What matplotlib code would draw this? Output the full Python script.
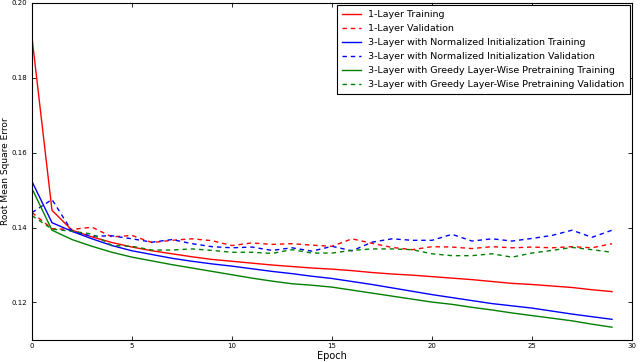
import matplotlib
matplotlib.use("Agg")
import matplotlib.pyplot as plt
import numpy as np

epochs = np.arange(30)

one_layer_train = [0.1907, 0.1446, 0.1393, 0.1375, 0.1360, 0.1348, 0.1338, 0.1330, 0.1322, 0.1315,
                   0.1310, 0.1305, 0.1300, 0.1296, 0.1292, 0.1289, 0.1285, 0.1280, 0.1276, 0.1273,
                   0.1269, 0.1265, 0.1261, 0.1256, 0.1251, 0.1248, 0.1244, 0.1240, 0.1234, 0.1229]
one_layer_val = [0.1440, 0.1397, 0.1395, 0.1401, 0.1375, 0.1379, 0.1360, 0.1366, 0.1370, 0.1365,
                 0.1352, 0.1359, 0.1355, 0.1357, 0.1353, 0.1350, 0.1370, 0.1358, 0.1347, 0.1341,
                 0.1349, 0.1348, 0.1344, 0.1349, 0.1346, 0.1348, 0.1346, 0.1349, 0.1346, 0.1357]

norm_init_train = [0.1523, 0.1413, 0.1390, 0.1370, 0.1352, 0.1338, 0.1328, 0.1318, 0.1310, 0.1303,
                   0.1297, 0.1290, 0.1283, 0.1277, 0.1270, 0.1264, 0.1256, 0.1248, 0.1239, 0.1230,
                   0.1221, 0.1213, 0.1205, 0.1197, 0.1191, 0.1185, 0.1177, 0.1169, 0.1162, 0.1155]
norm_init_val = [0.1440, 0.1475, 0.1390, 0.1377, 0.1378, 0.1370, 0.1361, 0.1368, 0.1357, 0.1349,
                 0.1346, 0.1348, 0.1339, 0.1346, 0.1337, 0.1350, 0.1338, 0.1361, 0.1370, 0.1366,
                 0.1366, 0.1382, 0.1364, 0.1370, 0.1364, 0.1371, 0.1379, 0.1393, 0.1374, 0.1393]

pretrain_train = [0.1504, 0.1393, 0.1368, 0.1350, 0.1334, 0.1321, 0.1311, 0.1301, 0.1292, 0.1283,
                  0.1274, 0.1265, 0.1257, 0.1250, 0.1246, 0.1241, 0.1233, 0.1225, 0.1217, 0.1209,
                  0.1201, 0.1195, 0.1187, 0.1180, 0.1172, 0.1165, 0.1158, 0.1151, 0.1142, 0.1134]
pretrain_val = [0.1432, 0.1396, 0.1390, 0.1383, 0.1352, 0.1350, 0.1340, 0.1340, 0.1343, 0.1339,
                0.1334, 0.1334, 0.1331, 0.1341, 0.1332, 0.1332, 0.1339, 0.1343, 0.1343, 0.1341,
                0.1330, 0.1325, 0.1325, 0.1330, 0.1321, 0.1332, 0.1339, 0.1347, 0.1341, 0.1334]

series = [
    (one_layer_train, "r", "-", "1-Layer Training"),
    (one_layer_val, "r", "--", "1-Layer Validation"),
    (norm_init_train, "b", "-", "3-Layer with Normalized Initialization Training"),
    (norm_init_val, "b", "--", "3-Layer with Normalized Initialization Validation"),
    (pretrain_train, "g", "-", "3-Layer with Greedy Layer-Wise Pretraining Training"),
    (pretrain_val, "g", "--", "3-Layer with Greedy Layer-Wise Pretraining Validation"),
]

plt.rcParams["xtick.direction"] = "in"
plt.rcParams["ytick.direction"] = "in"

fig = plt.figure(figsize=(6.4, 3.62), dpi=100)
ax = fig.add_axes([0.05, 0.061, 0.9375, 0.931])

for vals, c, ls, lab in series:
    line, = ax.plot(epochs, vals, color=c, linestyle=ls, linewidth=1, label=lab)
    if ls == "--":
        line.set_dashes((3.2, 2.8))

ax.set_xlim(0, 30)
ax.set_ylim(0.11, 0.20)
ax.set_yticks([0.12, 0.14, 0.16, 0.18, 0.20])
ax.set_xticks([0, 5, 10, 15, 20, 25, 30])
ax.tick_params(labelsize=5, top=True, right=True, length=3, width=0.6)
ax.tick_params(axis="y", pad=3.5)
ax.tick_params(axis="x", pad=2.5)
for s in ax.spines.values():
    s.set_linewidth(0.8)

ax.set_xlabel("Epoch", fontsize=7, labelpad=1)
ax.set_ylabel("Root Mean Square Error", fontsize=6.5)
ax.yaxis.set_label_coords(-0.036, 0.5)

leg = ax.legend(loc="upper right", fontsize=6.8, handlelength=2.0, handletextpad=0.8,
                borderpad=0.55, labelspacing=0.52, borderaxespad=0.25,
                fancybox=False, framealpha=1, edgecolor="black")
leg.get_frame().set_linewidth(0.8)

fig.savefig("out.png", dpi=100)
